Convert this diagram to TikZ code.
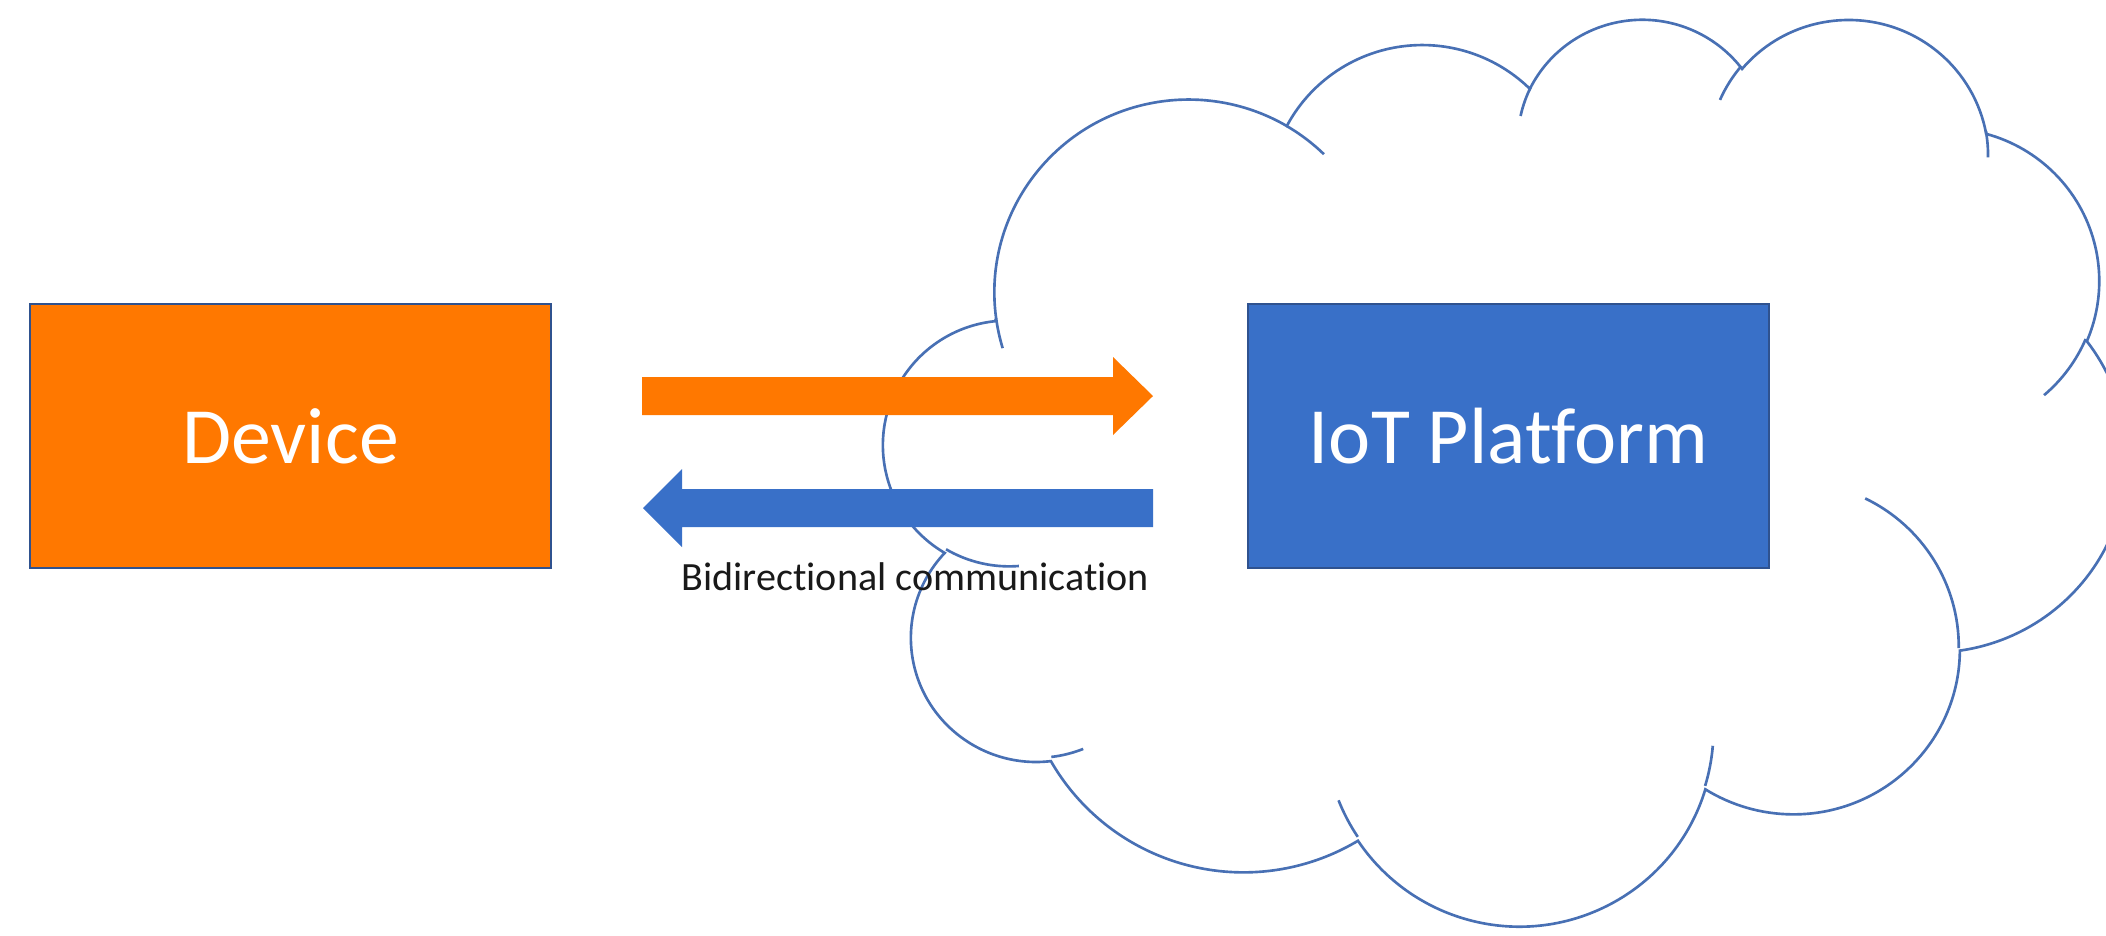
\documentclass[tikz,border=0pt]{standalone}
\usepackage{fontspec}
\setmainfont{Carlito}[Ligatures=NoCommon]
\usetikzlibrary{calc}
\definecolor{devorange}{RGB}{255,120,0}
\definecolor{iotblue}{RGB}{57,112,200}
\definecolor{cloudblue}{RGB}{72,112,180}
\definecolor{edgeblue}{RGB}{47,82,143}
\def\cL{884}\def\cT{17}\def\cW{1242}\def\cH{906}
% arc of the cloud: name, wR, hR (thousandths of the 43.2 box), start, sweep (deg)
\newcommand\defarc[5]{%
  \pgfmathsetmacro\arcts{atan2(#2*sin(#4),#3*cos(#4))}%
  \pgfmathsetmacro\arcte{atan2(#2*sin(#4+#5),#3*cos(#4+#5))}%
  \pgfmathsetmacro\arcd{mod(\arcte-\arcts+720,360)}%
  \pgfmathsetmacro\arcrx{#2/43.2*\cW*0.284528}%
  \pgfmathsetmacro\arcry{#3/43.2*\cH*0.284528}%
  \edef\arctmp{\noexpand\tikzset{#1/.style={start angle={-(\arcts)}, delta angle={-(\arcd)}, x radius=\arcrx pt, y radius=\arcry pt}}}%
  \arctmp}
% outline
\defarc{ca1}{6.753}{9.190}{-190.4875}{123.7805}
\defarc{ca2}{5.333}{7.267}{-144.1024}{89.9452}
\defarc{ca3}{4.365}{5.945}{-145.8079}{99.7230}
\defarc{ca4}{4.857}{6.595}{-130.9861}{117.2417}
\defarc{ca5}{5.333}{7.273}{-78.7089}{109.0269}
\defarc{ca6}{6.775}{9.220}{-46.2673}{130.2690}
\defarc{ca7}{5.785}{7.867}{0.6250}{114.0333}
\defarc{ca8}{6.752}{9.215}{22.4516}{115.1726}
\defarc{ca9}{7.720}{10.543}{66.2426}{75.7110}
\defarc{ca10}{4.360}{5.918}{-274.9421}{146.7356}
\defarc{ca11}{4.345}{5.945}{-246.8285}{152.5189}
% inner hooks
\defarc{hk1}{4.345}{5.945}{86.7420}{26.4295}
\defarc{hk2}{4.360}{5.918}{73.6105}{11.4475}
\defarc{hk3}{6.752}{9.215}{137.6242}{14.0811}
\defarc{hk4}{6.752}{9.215}{6.4533}{15.9984}
\defarc{hk5}{5.785}{7.867}{-70.2924}{70.9174}
\defarc{hk6}{5.333}{7.273}{30.3180}{27.7515}
\defarc{hk7}{4.857}{6.595}{-13.7443}{14.8589}
\defarc{hk8}{4.857}{6.595}{-149.1815}{18.1954}
\defarc{hk9}{4.365}{5.945}{-163.4943}{17.6864}
\defarc{hk10}{6.753}{9.190}{-66.7070}{12.3194}
\defarc{hk11}{6.753}{9.190}{157.6544}{11.8582}
\begin{document}
\begin{tikzpicture}[x=0.01cm,y=-0.01cm,
  platebox/.style={draw=edgeblue, line width=0.6pt, minimum width=5.21cm, minimum height=2.64cm, inner sep=0pt, text=white, font=\fontsize{22.7}{27}\selectfont},
  cloudline/.style={draw=cloudblue, line width=0.75pt},
  commtext/.style={font=\fontsize{11.4}{13}\selectfont, text=black!90, inner sep=0pt, anchor=base west}]
\useasboundingbox (0,0) rectangle (2106,935);
\clip (0,0) rectangle (2106,935);
% cloud anchor points
\coordinate (c0) at ({\cL+3.900/43.2*\cW},{\cT+14.370/43.2*\cH});
\coordinate (h1) at ({\cL+4.693/43.2*\cW},{\cT+26.177/43.2*\cH});
\coordinate (h2) at ({\cL+6.928/43.2*\cW},{\cT+34.899/43.2*\cH});
\coordinate (h3) at ({\cL+16.478/43.2*\cW},{\cT+39.090/43.2*\cH});
\coordinate (h4) at ({\cL+28.827/43.2*\cW},{\cT+34.751/43.2*\cH});
\coordinate (h5) at ({\cL+34.129/43.2*\cW},{\cT+22.954/43.2*\cH});
\coordinate (h6) at ({\cL+41.798/43.2*\cW},{\cT+15.354/43.2*\cH});
\coordinate (h7) at ({\cL+38.324/43.2*\cW},{\cT+5.426/43.2*\cH});
\coordinate (h8) at ({\cL+29.078/43.2*\cW},{\cT+3.952/43.2*\cH});
\coordinate (h9) at ({\cL+22.141/43.2*\cW},{\cT+4.720/43.2*\cH});
\coordinate (h10) at ({\cL+14.000/43.2*\cW},{\cT+5.192/43.2*\cH});
\coordinate (h11) at ({\cL+4.127/43.2*\cW},{\cT+15.789/43.2*\cH});
\draw[cloudline, fill=white] (c0) arc[ca1] arc[ca2] arc[ca3] arc[ca4] arc[ca5] arc[ca6]
  arc[ca7] arc[ca8] arc[ca9] arc[ca10] arc[ca11] -- cycle;
\draw[cloudline] (h1) arc[hk1] (h2) arc[hk2] (h3) arc[hk3] (h4) arc[hk4]
  (h5) arc[hk5] (h6) arc[hk6] (h7) arc[hk7] (h8) arc[hk8] (h9) arc[hk9]
  (h10) arc[hk10] (h11) arc[hk11];
% boxes
\node[platebox, fill=devorange] (device) at (290.5,436) {Device};
\node[platebox, fill=iotblue] (iot) at (1508.5,436) {IoT Platform};
% block arrows
\coordinate (oTail) at (642,396);
\coordinate (oTip) at (1153,396);
\coordinate (bTail) at (1153,508);
\coordinate (bTip) at (643,508);
\fill[devorange] ($(oTail)+(0,-19)$) -- ($(oTip)+(-40,-19)$) -- ($(oTip)+(-40,-39)$) -- (oTip)
  -- ($(oTip)+(-40,39)$) -- ($(oTip)+(-40,19)$) -- ($(oTail)+(0,19)$) -- cycle;
\fill[iotblue] ($(bTail)+(0,-19)$) -- ($(bTip)+(39,-19)$) -- ($(bTip)+(39,-39)$) -- (bTip)
  -- ($(bTip)+(39,39)$) -- ($(bTip)+(39,19)$) -- ($(bTail)+(0,19)$) -- cycle;
\node[commtext] (lbl) at (681,590) {Bidirectional communication};
\end{tikzpicture}
\end{document}
